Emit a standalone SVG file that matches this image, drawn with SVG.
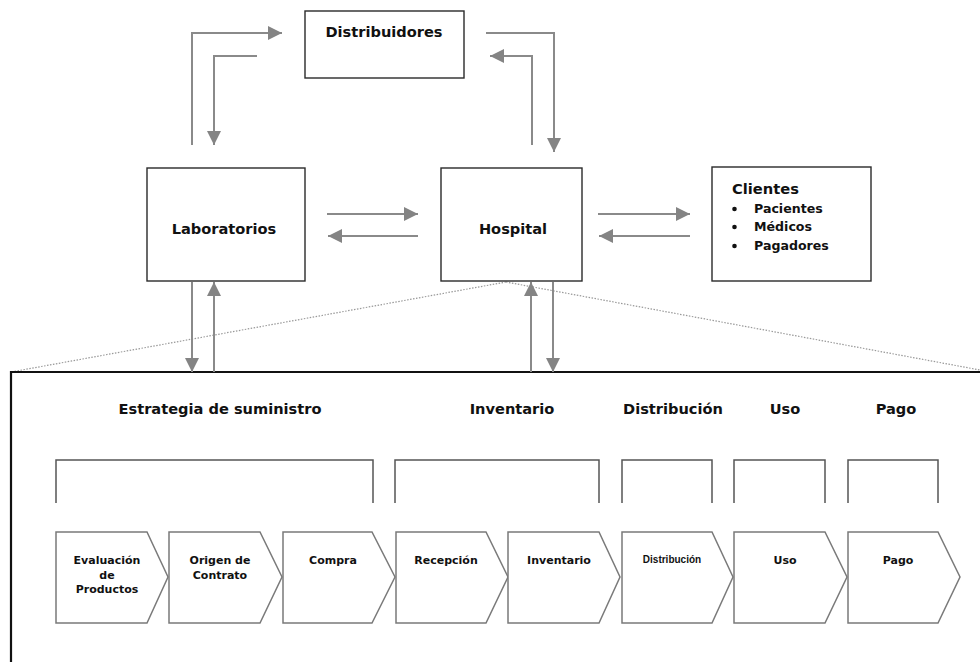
<svg xmlns="http://www.w3.org/2000/svg" width="980" height="662" viewBox="0 0 980 662">
<defs>
<marker id="ah" markerUnits="userSpaceOnUse" markerWidth="16" markerHeight="14" refX="14" refY="7" orient="auto">
<path d="M0,0 L14,7 L0,14 Z" fill="#848484"/>
</marker>
</defs>
<style>
.box{fill:#fff;stroke:#2a2a2a;stroke-width:1.4}
.lbl{font-family:"DejaVu Sans",sans-serif;font-weight:bold;font-size:14.6px;fill:#111;text-anchor:middle}
.cl{font-family:"DejaVu Sans",sans-serif;font-weight:bold;fill:#111}
.hdr{font-family:"DejaVu Sans",sans-serif;font-weight:bold;font-size:14.6px;fill:#111;text-anchor:middle}
.chev{fill:#fff;stroke:#7a7a7a;stroke-width:1.5}
.ct{font-family:"DejaVu Sans",sans-serif;font-weight:bold;font-size:11px;fill:#111;text-anchor:middle}
.arr{fill:none;stroke:#8a8a8a;stroke-width:2;marker-end:url(#ah)}
.brk{fill:none;stroke:#555;stroke-width:1.5}
.dot{fill:none;stroke:#999;stroke-width:1.2;stroke-dasharray:1.5 1.5}
</style>
<rect width="980" height="662" fill="#fff"/>

<g id="zoom-lines">
<path class="dot" d="M506,282 L11,372"/>
<path class="dot" d="M506,282 L980,370"/>
</g>

<g id="process-frame">
<path d="M11,662 L11,372 L980,372" fill="none" stroke="#111" stroke-width="2.2"/>
</g>

<g id="distribuidores">
<rect class="box" x="305" y="11" width="159" height="67"/>
<text class="lbl" x="384" y="37">Distribuidores</text>
</g>
<g id="laboratorios">
<rect class="box" x="147" y="168" width="158" height="113"/>
<text class="lbl" x="224" y="234">Laboratorios</text>
</g>
<g id="hospital">
<rect class="box" x="441" y="168" width="141" height="113"/>
<text class="lbl" x="513" y="234">Hospital</text>
</g>
<g id="clientes">
<rect class="box" x="712" y="167" width="159" height="114"/>
<text class="cl" x="732" y="194" font-size="14.7px">Clientes</text>
<g font-size="12.6px">
<circle cx="734.5" cy="209" r="2.3" fill="#111"/>
<text class="cl" x="754" y="213">Pacientes</text>
<circle cx="734.5" cy="227" r="2.3" fill="#111"/>
<text class="cl" x="754" y="231">Médicos</text>
<circle cx="734.5" cy="246" r="2.3" fill="#111"/>
<text class="cl" x="754" y="250">Pagadores</text>
</g>
</g>

<g id="connectors">
<path class="arr" d="M192,145 L192,33 L282,33"/>
<path class="arr" d="M257,56 L214,56 L214,145"/>
<path class="arr" d="M486,33 L554,33 L554,152"/>
<path class="arr" d="M532,145 L532,56 L490,56"/>
<path class="arr" d="M327,214 L418,214"/>
<path class="arr" d="M418,236 L328,236"/>
<path class="arr" d="M598,214 L690,214"/>
<path class="arr" d="M690,236 L599,236"/>
<path class="arr" d="M192,282 L192,372"/>
<path class="arr" d="M214,372 L214,282"/>
<path class="arr" d="M531,372 L531,282"/>
<path class="arr" d="M553,282 L553,372"/>
</g>

<g id="stage-headers">
<text class="hdr" x="220" y="414">Estrategia de suministro</text>
<text class="hdr" x="512" y="414">Inventario</text>
<text class="hdr" x="673" y="414">Distribución</text>
<text class="hdr" x="785" y="414">Uso</text>
<text class="hdr" x="896" y="414">Pago</text>
</g>

<g id="brackets">
<path class="brk" d="M56,503 L56,460 L373,460 L373,503"/>
<path class="brk" d="M395,503 L395,460 L599,460 L599,503"/>
<path class="brk" d="M622,503 L622,460 L712,460 L712,503"/>
<path class="brk" d="M734,503 L734,460 L825,460 L825,503"/>
<path class="brk" d="M848,503 L848,460 L938,460 L938,503"/>
</g>

<g id="step-evaluacion">
<path class="chev" d="M56,532 L147,532 L168,577 L147,623 L56,623 Z"/>
<text class="ct" x="107" y="564">Evaluación</text>
<text class="ct" x="107" y="579">de</text>
<text class="ct" x="107" y="593">Productos</text>
</g>
<g id="step-origen">
<path class="chev" d="M169,532 L260,532 L282,577 L260,623 L169,623 Z"/>
<text class="ct" x="220" y="564">Origen de</text>
<text class="ct" x="220" y="579">Contrato</text>
</g>
<g id="step-compra">
<path class="chev" d="M283,532 L372,532 L395,577 L372,623 L283,623 Z"/>
<text class="ct" x="333" y="564">Compra</text>
</g>
<g id="step-recepcion">
<path class="chev" d="M396,532 L486,532 L508,577 L486,623 L396,623 Z"/>
<text class="ct" x="446" y="564">Recepción</text>
</g>
<g id="step-inventario">
<path class="chev" d="M508,532 L599,532 L620,577 L599,623 L508,623 Z"/>
<text class="ct" x="559" y="564">Inventario</text>
</g>
<g id="step-distribucion">
<path class="chev" d="M622,532 L712,532 L733,577 L712,623 L622,623 Z"/>
<text class="ct" x="672" y="563" style="font-family:'Liberation Sans',sans-serif;font-size:10px">Distribución</text>
</g>
<g id="step-uso">
<path class="chev" d="M734,532 L825,532 L847,577 L825,623 L734,623 Z"/>
<text class="ct" x="785" y="564">Uso</text>
</g>
<g id="step-pago">
<path class="chev" d="M848,532 L938,532 L960,577 L938,623 L848,623 Z"/>
<text class="ct" x="898" y="564">Pago</text>
</g>
</svg>
